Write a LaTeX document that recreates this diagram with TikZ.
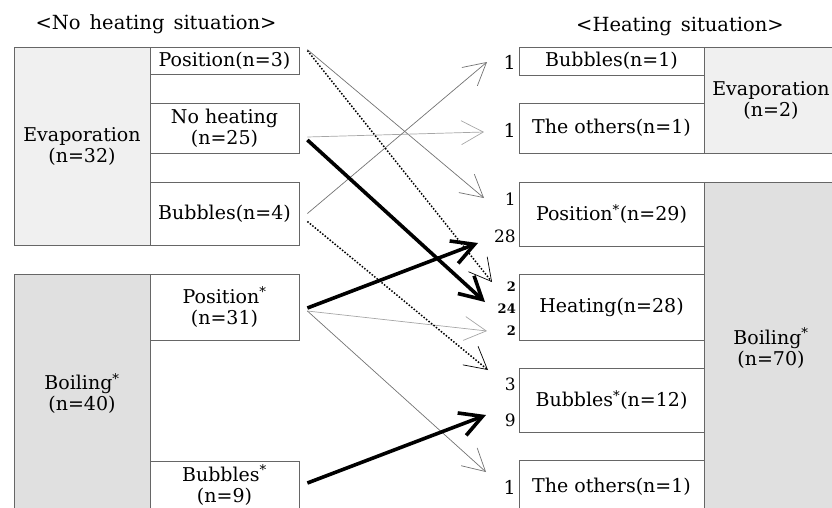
\documentclass[tikz,border=0pt]{standalone}
\usepackage{fontspec}
\setmainfont{DejaVu Serif}
\usepackage{tikz}
\usetikzlibrary{arrows.meta,calc}
\definecolor{evapgray}{gray}{0.94}
\definecolor{boilgray}{gray}{0.88}
\newcommand\ttlfont{\fontsize{19.5}{20}\selectfont\spaceskip=9pt\relax}
\tikzset{
  box/.style={draw=black!60,line width=0.8pt,fill=#1,inner sep=0pt,align=center,font=\fontsize{19}{21}\selectfont},
  box/.default={white},
  ttl/.style={font=\ttlfont},
  num/.style={anchor=east,inner sep=0pt,font=\fontsize{19}{19}\selectfont},
  numpr/.style={anchor=east,inner sep=0pt,font=\fontsize{17}{17}\selectfont},
  numsm/.style={anchor=east,inner sep=0pt,font=\fontsize{13}{13}\selectfont\bfseries},
  barb/.style={-{Straight Barb[length=22pt,width=24pt]}},
  arr/.style={barb,draw=black!55,line width=0.7pt},
  arrlt/.style={barb,draw=black!35,line width=0.7pt},
  arrdot/.style={-{Straight Barb[length=22pt,width=24pt,line width=0.7pt]},line width=1.5pt,dash pattern=on 1.5pt off 1.7pt},
  arrbig/.style={barb,line width=3.6pt},
}
\begin{document}
\begin{tikzpicture}[x=1pt,y=-1pt]
 \useasboundingbox (0,0) rectangle (832,507);
 \node[ttl] (tl) at (156,24) {\textless No heating situation\textgreater};
 \node[ttl] (tr) at (680,26) {\textless Heating situation\textgreater};
 % no heating situation
 \node[box=evapgray,minimum width=136pt,minimum height=198pt] (evl) at (82,146) {Evaporation\\(n=32)};
 \node[box=boilgray,minimum width=136pt,minimum height=239pt] (bol) at (82,393.5) {Boiling\textsuperscript{*}\\(n=40)};
 \node[box,minimum width=149pt,minimum height=27pt] (pos3) at (224.5,60.5) {Position(n=3)};
 \node[box,minimum width=149pt,minimum height=50pt] (noh) at (224.5,128) {No heating\\(n=25)};
 \node[box,minimum width=149pt,minimum height=63pt] (bub4) at (224.5,213.5) {Bubbles(n=4)};
 \node[box,minimum width=149pt,minimum height=66pt] (posS) at (224.5,307) {Position\textsuperscript{*}\\(n=31)};
 \node[box,minimum width=149pt,minimum height=52pt] (bubS) at (224.5,487) {};
 \node[box,draw=none,fill=none] (bubSt) at (224.5,485) {Bubbles\textsuperscript{*}\\(n=9)};
 % heating situation
 \node[box=evapgray,minimum width=134pt,minimum height=106pt] (evr) at (771,100) {Evaporation\\(n=2)};
 \node[box=boilgray,minimum width=134pt,minimum height=332pt] (bor) at (771,348) {Boiling\textsuperscript{*}\\(n=70)};
 \node[box,minimum width=185pt,minimum height=28pt] (hbub) at (611.5,61) {Bubbles(n=1)};
 \node[box,minimum width=185pt,minimum height=50pt] (hoth) at (611.5,128) {The others(n=1)};
 \node[box,minimum width=185pt,minimum height=64pt] (hpos) at (611.5,214) {Position\textsuperscript{*}(n=29)};
 \node[box,minimum width=185pt,minimum height=66pt] (hheat) at (611.5,307) {Heating(n=28)};
 \node[box,minimum width=185pt,minimum height=64pt] (hbubS) at (611.5,400) {Bubbles\textsuperscript{*}(n=12)};
 \node[box,minimum width=185pt,minimum height=54pt] (hoth2) at (611.5,487) {The others(n=1)};
 % counts
 \node[num] (c1) at (516,62) {1};
 \node[num] (c2) at (516,130) {1};
 \node[numpr] (c3) at (516,199) {1};
 \node[numpr] (c4) at (516,236) {28};
 \node[numsm] (c5) at (516,287) {2};
 \node[numsm] (c6) at (516,309) {24};
 \node[numsm] (c7) at (516,331) {2};
 \node[numpr] (c8) at (516,384) {3};
 \node[numpr] (c9) at (516,420) {9};
 \node[num] (c10) at (516,487) {1};
 % changes
 \draw[arr] ($(pos3.north east)+(8,3)$) -- ($(c3.east)+(-32,-1)$);
 \draw[arrlt] ($(noh.east)+(8,9)$) -- ($(c2.east)+(-32,2)$);
 \draw[arr] ($(bub4.east)+(8,0)$) -- ($(c1.east)+(-29,0)$);
 \draw[arrlt] ($(posS.east)+(8,4)$) -- ($(c7.east)+(-29,0)$);
 \draw[arr] ($(posS.east)+(8,4)$) -- ($(c10.east)+(-30,-15)$);
 \draw[arrdot] ($(pos3.north east)+(8,4)$) -- ($(c5.east)+(-24,-5)$);
 \draw[arrdot] ($(bub4.east)+(8,8)$) -- ($(c8.east)+(-28,-14)$);
 \draw[arrbig] ($(noh.east)+(8,12)$) -- ($(c6.east)+(-31,-7)$);
 \draw[arrbig] ($(posS.east)+(8,1)$) -- ($(c4.east)+(-38,7)$);
 \draw[arrbig] ($(bubS.east)+(8,-4)$) -- ($(c9.east)+(-30,-5)$);
\end{tikzpicture}
\end{document}
